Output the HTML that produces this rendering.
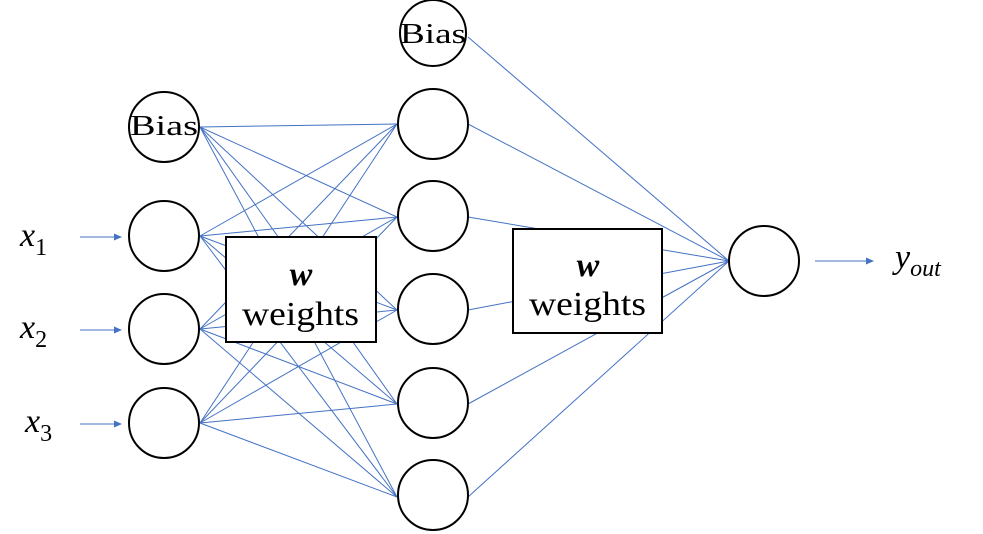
<!DOCTYPE html>
<html><head><style>
body{margin:0;background:#fff;}
svg{display:block;}
text{font-family:"Liberation Serif",serif;}
</style></head><body>
<svg width="983" height="534" viewBox="0 0 983 534" xmlns="http://www.w3.org/2000/svg">
<defs><marker id="a" markerWidth="8" markerHeight="8" refX="7" refY="4" orient="auto" markerUnits="userSpaceOnUse"><path d="M0,0.5 L8,4 L0,7.5z" fill="#4472C4"/></marker></defs>
<g stroke="#4472C4" stroke-width="1">
<line x1="200" y1="127" x2="397" y2="124"/><line x1="200" y1="127" x2="397" y2="217"/><line x1="200" y1="127" x2="397" y2="310"/><line x1="200" y1="127" x2="397" y2="404"/><line x1="200" y1="127" x2="397" y2="497"/>
<line x1="200" y1="236" x2="397" y2="124"/><line x1="200" y1="236" x2="397" y2="217"/><line x1="200" y1="236" x2="397" y2="310"/><line x1="200" y1="236" x2="397" y2="404"/><line x1="200" y1="236" x2="397" y2="497"/>
<line x1="200" y1="329" x2="397" y2="124"/><line x1="200" y1="329" x2="397" y2="217"/><line x1="200" y1="329" x2="397" y2="310"/><line x1="200" y1="329" x2="397" y2="404"/><line x1="200" y1="329" x2="397" y2="497"/>
<line x1="200" y1="423" x2="397" y2="124"/><line x1="200" y1="423" x2="397" y2="217"/><line x1="200" y1="423" x2="397" y2="310"/><line x1="200" y1="423" x2="397" y2="404"/><line x1="200" y1="423" x2="397" y2="497"/>
<line x1="468" y1="37" x2="729" y2="261"/><line x1="468" y1="124" x2="729" y2="261"/><line x1="468" y1="217" x2="729" y2="261"/><line x1="468" y1="310" x2="729" y2="261"/><line x1="468" y1="404" x2="729" y2="261"/><line x1="468" y1="497" x2="729" y2="261"/>
<line x1="80" y1="237" x2="121" y2="237" marker-end="url(#a)"/>
<line x1="80" y1="330" x2="121" y2="330" marker-end="url(#a)"/>
<line x1="80" y1="424" x2="121" y2="424" marker-end="url(#a)"/>
<line x1="815" y1="261" x2="873" y2="261" marker-end="url(#a)"/>
</g>
<g fill="#fff" stroke="#000" stroke-width="2">
<circle cx="164" cy="127" r="35"/><circle cx="164" cy="236" r="35"/><circle cx="164" cy="329" r="35"/><circle cx="164" cy="423" r="35"/>
<circle cx="433" cy="33" r="33"/><circle cx="433" cy="124" r="35"/><circle cx="433" cy="216" r="35"/><circle cx="433" cy="309" r="35"/><circle cx="433" cy="403" r="35"/><circle cx="433" cy="495" r="35"/>
<circle cx="764" cy="261" r="35"/>
<rect x="226" y="237" width="150" height="105"/>
<rect x="513" y="229" width="149" height="104"/>
</g>
<text x="130" y="135" font-size="28" textLength="68" lengthAdjust="spacingAndGlyphs">Bias</text>
<text x="400" y="43" font-size="28" textLength="66" lengthAdjust="spacingAndGlyphs">Bias</text>
<text x="301" y="285" font-size="34" font-weight="bold" font-style="italic" text-anchor="middle">w</text>
<text x="242" y="325" font-size="34" textLength="117" lengthAdjust="spacingAndGlyphs">weights</text>
<text x="588" y="276" font-size="34" font-weight="bold" font-style="italic" text-anchor="middle">w</text>
<text x="529" y="315" font-size="34" textLength="117" lengthAdjust="spacingAndGlyphs">weights</text>
<text x="20" y="246" font-size="34" font-style="italic">x<tspan font-size="24" font-style="normal" dy="9">1</tspan></text>
<text x="20" y="338" font-size="34" font-style="italic">x<tspan font-size="24" font-style="normal" dy="9">2</tspan></text>
<text x="25" y="432" font-size="34" font-style="italic">x<tspan font-size="24" font-style="normal" dy="9">3</tspan></text>
<text x="895" y="268" font-size="34" font-style="italic">y<tspan font-size="24" dy="8">out</tspan></text>
</svg>
</body></html>
